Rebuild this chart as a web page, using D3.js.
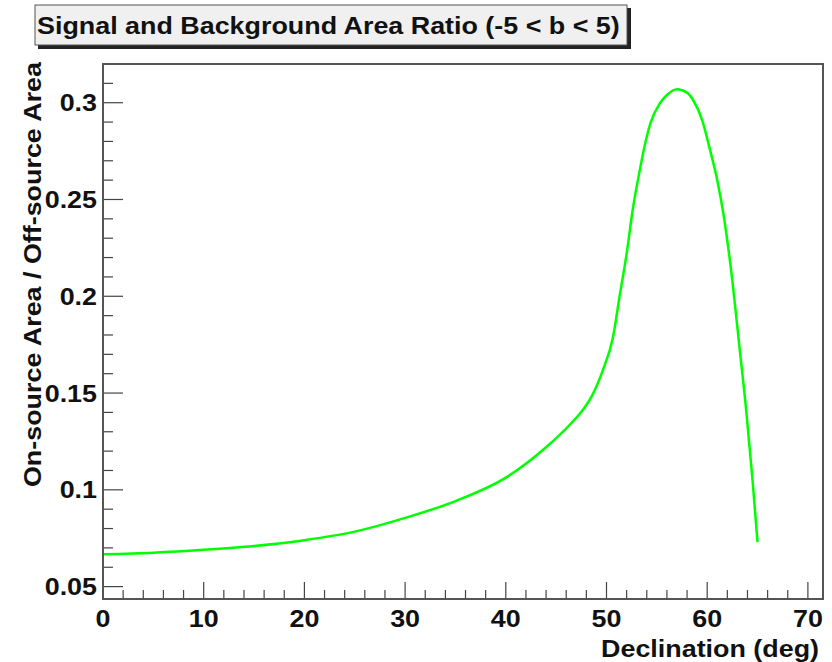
<!DOCTYPE html>
<html>
<head>
<meta charset="utf-8">
<script src="https://cdn.jsdelivr.net/npm/d3@7"></script>
<style>
  body { margin: 0; background: #fff; }
  text { font-family: "Liberation Sans", Arial, Helvetica, sans-serif; font-weight: bold; fill: #111; }
</style>
</head>
<body>
<div id="content"></div>
<script>
// Curve: declination (deg) vs area ratio
var declination = [0, 5, 10, 15, 20, 25, 30, 35, 40, 44, 46.5, 47.3, 48.5, 49.65, 50.65, 51.3, 52, 52.6, 53.3, 53.8, 54.4, 55.3, 56, 57, 58, 58.6, 59.5, 60.2, 61, 61.6, 62.5, 63.2, 63.9, 64.5, 65];
var areaRatio = [0.0667, 0.0675, 0.069, 0.071, 0.074, 0.0784, 0.0855, 0.0942, 0.1063, 0.122, 0.1344, 0.139, 0.148, 0.162, 0.179, 0.2, 0.222, 0.2446, 0.265, 0.278, 0.29, 0.2997, 0.304, 0.307, 0.3052, 0.3014, 0.291, 0.2773, 0.26, 0.2429, 0.208, 0.174, 0.1396, 0.1051, 0.073];

var xMajorTicks = [0, 10, 20, 30, 40, 50, 60, 70];
var yMajorTicks = [0.05, 0.1, 0.15, 0.2, 0.25, 0.3];
var yTickLabels = ["0.05", "0.1", "0.15", "0.2", "0.25", "0.3"];

var titleText = "Signal and Background Area Ratio (-5 < b < 5)";
var xTitle = "Declination (deg)";
var yTitle = "On-source Area / Off-source Area";

var svgWidth = 832;
var svgHeight = 662;

// Frame of the plot
var frame = { left: 103, right: 823, top: 64, bottom: 599 };

// Text in the picture is a bit wider than Liberation Sans
var stretch = 1.12;

var svg = d3.select("#content").append("svg")
    .attr("width", svgWidth)
    .attr("height", svgHeight);

var xScale = d3.scaleLinear()
    .domain([0, 71.5])
    .range([frame.left, frame.right]);

var yScale = d3.scaleLinear()
    .domain([0.0436, 0.32])
    .range([frame.bottom, frame.top]);

function addText(x, y, rotate, anchor, size, str) {
    return svg.append("text")
        .attr("transform", "translate(" + x + "," + y + ")" + (rotate ? " rotate(" + rotate + ")" : "") + " scale(" + stretch + ",1)")
        .attr("text-anchor", anchor)
        .attr("font-size", size)
        .text(str);
}

// Title box with shadow
svg.append("rect")
    .attr("x", 38).attr("y", 8)
    .attr("width", 593).attr("height", 41)
    .attr("fill", "#222");
svg.append("rect")
    .attr("x", 35).attr("y", 5)
    .attr("width", 592).attr("height", 40)
    .attr("fill", "#f0f0f0")
    .attr("stroke", "#555")
    .attr("stroke-width", 1);
addText(37, 34, 0, "start", 24, titleText);

// Minor and major ticks (inward, ROOT style)
var xMinor = d3.range(0, 71, 2).filter(function (d) { return d % 10 != 0; });
var yMinor = d3.range(5, 32).map(function (d) { return d / 100; })
    .filter(function (d) { return yMajorTicks.indexOf(d) < 0; });

var tickColor = "#444";

svg.selectAll(".x-minor").data(xMinor).enter().append("line")
    .attr("class", "x-minor")
    .attr("x1", function (d) { return xScale(d); })
    .attr("x2", function (d) { return xScale(d); })
    .attr("y1", frame.bottom).attr("y2", frame.bottom - 9)
    .attr("stroke", tickColor).attr("stroke-width", 1.2);

svg.selectAll(".x-major").data(xMajorTicks).enter().append("line")
    .attr("class", "x-major")
    .attr("x1", function (d) { return xScale(d); })
    .attr("x2", function (d) { return xScale(d); })
    .attr("y1", frame.bottom).attr("y2", frame.bottom - 17)
    .attr("stroke", tickColor).attr("stroke-width", 1.2);

svg.selectAll(".y-minor").data(yMinor).enter().append("line")
    .attr("class", "y-minor")
    .attr("x1", frame.left).attr("x2", frame.left + 10)
    .attr("y1", function (d) { return yScale(d); })
    .attr("y2", function (d) { return yScale(d); })
    .attr("stroke", tickColor).attr("stroke-width", 1.2);

svg.selectAll(".y-major").data(yMajorTicks).enter().append("line")
    .attr("class", "y-major")
    .attr("x1", frame.left).attr("x2", frame.left + 20)
    .attr("y1", function (d) { return yScale(d); })
    .attr("y2", function (d) { return yScale(d); })
    .attr("stroke", tickColor).attr("stroke-width", 1.2);

// Tick labels
xMajorTicks.forEach(function (d) {
    addText(xScale(d), 627, 0, "middle", 24, d);
});
yMajorTicks.forEach(function (d, i) {
    addText(97, yScale(d) + 8.5, 0, "end", 24, yTickLabels[i]);
});

// Axis titles
addText(819, 657, 0, "end", 24, xTitle);
addText(41, 62, -90, "end", 24, yTitle);

// The curve
var points = declination.map(function (d, i) { return [d, areaRatio[i]]; });
var line = d3.line()
    .x(function (d) { return xScale(d[0]); })
    .y(function (d) { return yScale(d[1]); })
    .curve(d3.curveMonotoneX);

svg.append("path")
    .datum(points)
    .attr("d", line)
    .attr("fill", "none")
    .attr("stroke", "#00ff00")
    .attr("stroke-width", 2.5);

// Frame
svg.append("rect")
    .attr("x", frame.left).attr("y", frame.top)
    .attr("width", frame.right - frame.left)
    .attr("height", frame.bottom - frame.top)
    .attr("fill", "none")
    .attr("stroke", "#555")
    .attr("stroke-width", 2);
</script>
</body>
</html>
